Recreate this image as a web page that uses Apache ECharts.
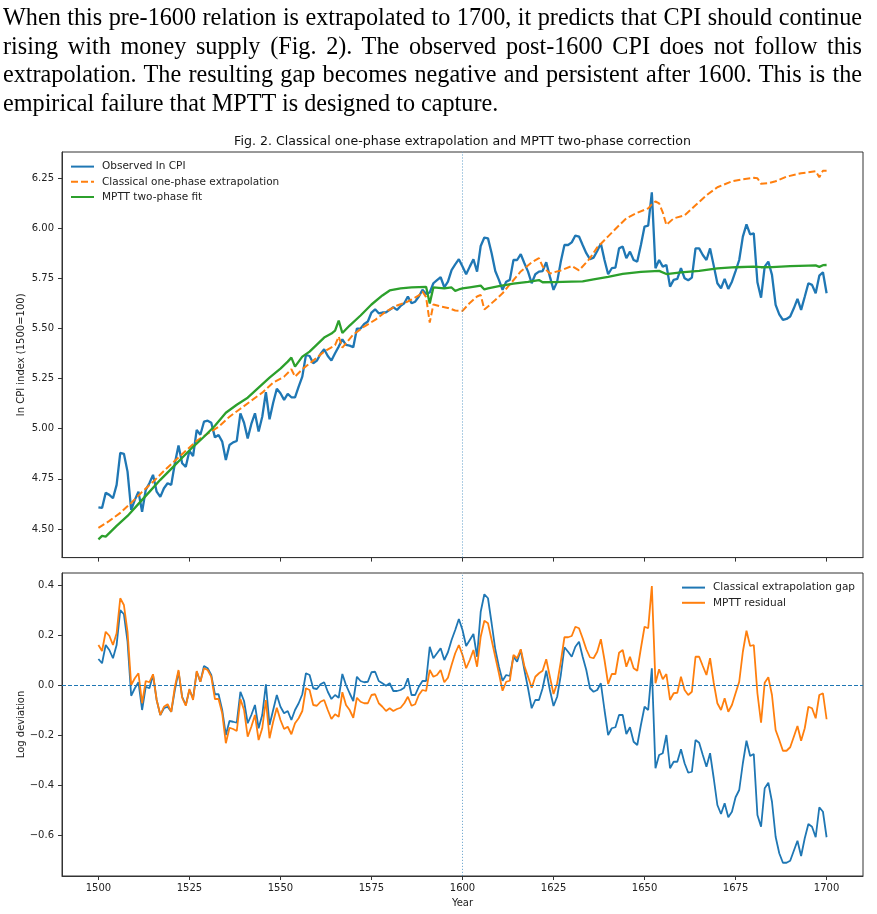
<!DOCTYPE html>
<html>
<head>
<meta charset="utf-8">
<script src="https://cdn.jsdelivr.net/npm/echarts@6/dist/echarts.min.js"></script>
<style>
html, body { margin: 0; padding: 0; background: #fff; }
#wrap { position: relative; width: 877px; height: 914px; overflow: hidden; }
#chart { position: absolute; left: 0; top: 0; width: 877px; height: 914px; }
#para {
  position: absolute; left: 3px; top: 3px; width: 859px;
  font-family: 'Liberation Serif', 'Times New Roman', serif;
  font-size: 24.2px; line-height: 28.7px; text-align: justify; color: #000;
}
</style>
</head>
<body>
<div id="wrap">
  <div id="chart"></div>
  <div id="para">When this pre-1600 relation is extrapolated to 1700, it predicts that CPI should continue rising with money supply (Fig. 2). The observed post-1600 CPI does not follow this extrapolation. The resulting gap becomes negative and persistent after 1600. This is the empirical failure that MPTT is designed to capture.</div>
</div>
<script>
// years 1500..1700, one value per year
const years = Array.from({ length: 201 }, (_, i) => 1500 + i)

const observed = [
  4.608, 4.605, 4.68, 4.67, 4.653, 4.72, 4.88, 4.875, 4.786, 4.595,
  4.645, 4.686, 4.586, 4.695, 4.728, 4.77, 4.686, 4.66, 4.703, 4.728,
  4.72, 4.828, 4.916, 4.828, 4.81, 4.89, 4.864, 4.994, 4.97, 5.035,
  5.04, 5.03, 4.957, 4.969, 4.936, 4.844, 4.919, 4.932, 4.939, 5.077,
  5.03, 4.952, 5.024, 5.077, 4.986, 5.06, 5.182, 5.047, 5.13, 5.2,
  5.177, 5.144, 5.174, 5.157, 5.157, 5.21, 5.26, 5.368, 5.363, 5.327,
  5.34, 5.373, 5.397, 5.363, 5.34, 5.377, 5.41, 5.446, 5.418, 5.415,
  5.407, 5.5, 5.5, 5.523, 5.535, 5.58, 5.596, 5.576, 5.58, 5.581,
  5.593, 5.606, 5.593, 5.613, 5.626, 5.66, 5.626, 5.634, 5.66, 5.693,
  5.673, 5.68, 5.726, 5.742, 5.756, 5.706, 5.734, 5.792, 5.82, 5.846,
  5.81, 5.771, 5.809, 5.846, 5.784, 5.912, 5.954, 5.95, 5.876, 5.787,
  5.743, 5.693, 5.734, 5.743, 5.842, 5.842, 5.871, 5.826, 5.784, 5.726,
  5.771, 5.784, 5.787, 5.831, 5.759, 5.693, 5.734, 5.834, 5.917, 5.917,
  5.93, 5.964, 5.959, 5.917, 5.876, 5.846, 5.854, 5.887, 5.925, 5.842,
  5.771, 5.801, 5.804, 5.9, 5.909, 5.851, 5.884, 5.842, 5.834, 5.917,
  6.009, 6.014, 6.18, 5.801, 5.842, 5.809, 5.817, 5.709, 5.743, 5.748,
  5.801, 5.751, 5.741, 5.754, 5.9, 5.9, 5.867, 5.842, 5.9, 5.814,
  5.726, 5.701, 5.748, 5.698, 5.734, 5.787, 5.842, 5.959, 6.02, 5.97,
  5.975, 5.731, 5.654, 5.809, 5.834, 5.768, 5.618, 5.571, 5.543, 5.548,
  5.56, 5.601, 5.648, 5.593, 5.659, 5.726, 5.718, 5.676, 5.764, 5.781,
  5.676
]

// smooth fits, read at their vertices: [year, value]
const extrapolation = [
  [1500, 4.505], [1503, 4.54], [1506, 4.58], [1509, 4.63], [1512, 4.685],
  [1515, 4.735], [1518, 4.79], [1521, 4.84], [1524, 4.89], [1527, 4.94],
  [1530, 4.975], [1533, 5.01], [1536, 5.06], [1539, 5.10], [1542, 5.14],
  [1545, 5.18], [1548, 5.23], [1551, 5.26], [1553, 5.297], [1554, 5.26],
  [1556, 5.297], [1559, 5.34], [1562, 5.385], [1565, 5.417], [1566, 5.46],
  [1567, 5.405], [1570, 5.47], [1573, 5.51], [1576, 5.543], [1579, 5.585],
  [1582, 5.615], [1585, 5.635], [1588, 5.665], [1589, 5.685], [1590, 5.657],
  [1591, 5.53], [1592, 5.62], [1594, 5.61], [1596, 5.603], [1598, 5.59],
  [1600, 5.588], [1602, 5.628], [1604, 5.66], [1605, 5.668], [1606, 5.595],
  [1607, 5.61], [1609, 5.643], [1611, 5.676], [1613, 5.72], [1616, 5.785],
  [1619, 5.83], [1621, 5.851], [1622, 5.81], [1624, 5.775], [1627, 5.79],
  [1630, 5.812], [1632, 5.79], [1635, 5.85], [1637, 5.905], [1640, 5.96],
  [1643, 6.015], [1645, 6.05], [1648, 6.078], [1651, 6.10], [1652, 6.12],
  [1653, 6.134], [1654, 6.125], [1655, 6.08], [1656, 6.017], [1658, 6.05],
  [1661, 6.065], [1664, 6.115], [1667, 6.165], [1670, 6.205], [1674, 6.235],
  [1677, 6.245], [1680, 6.252], [1681, 6.25], [1682, 6.222], [1684, 6.225],
  [1686, 6.235], [1689, 6.258], [1693, 6.275], [1697, 6.285], [1698, 6.255],
  [1699, 6.288], [1700, 6.288]
]

const mpttFit = [
  [1500, 4.448], [1501, 4.465], [1502, 4.462], [1505, 4.515], [1508, 4.565],
  [1511, 4.625], [1514, 4.685], [1517, 4.745], [1520, 4.80], [1523, 4.855],
  [1526, 4.91], [1529, 4.96], [1532, 5.015], [1535, 5.08], [1538, 5.12],
  [1541, 5.155], [1544, 5.205], [1547, 5.255], [1550, 5.30], [1552, 5.335],
  [1553, 5.355], [1554, 5.31], [1556, 5.36], [1558, 5.385], [1560, 5.42],
  [1562, 5.455], [1564, 5.475], [1565, 5.49], [1566, 5.54], [1567, 5.478],
  [1569, 5.515], [1572, 5.565], [1575, 5.62], [1578, 5.665], [1580, 5.69],
  [1583, 5.70], [1586, 5.705], [1590, 5.708], [1591, 5.625], [1592, 5.705],
  [1595, 5.70], [1597, 5.705], [1598, 5.688], [1599, 5.695], [1600, 5.70],
  [1602, 5.706], [1605, 5.714], [1606, 5.695], [1607, 5.70], [1610, 5.712],
  [1614, 5.724], [1618, 5.733], [1621, 5.742], [1622, 5.731], [1625, 5.732],
  [1630, 5.734], [1633, 5.735], [1636, 5.745], [1640, 5.758], [1644, 5.773],
  [1649, 5.783], [1654, 5.788], [1656, 5.772], [1660, 5.78], [1665, 5.788],
  [1670, 5.80], [1675, 5.806], [1680, 5.809], [1682, 5.806], [1685, 5.807],
  [1690, 5.811], [1695, 5.814], [1697, 5.815], [1698, 5.808], [1699, 5.816],
  [1700, 5.817]
]

const classicalGap = [
  0.104, 0.087, 0.16, 0.14, 0.107, 0.16, 0.30, 0.283, 0.173, -0.043,
  -0.013, 0.011, -0.10, -0.007, -0.013, 0.04, -0.06, -0.12, -0.093, -0.087,
  -0.107, -0.02, 0.053, -0.047, -0.08, -0.02, -0.053, 0.053, 0.013, 0.076,
  0.067, 0.04, -0.037, -0.037, -0.10, -0.20, -0.144, -0.147, -0.151, -0.027,
  -0.064, -0.153, -0.12, -0.08, -0.173, -0.12, 0.003, -0.16, -0.10, -0.04,
  -0.087, -0.113, -0.104, -0.14, -0.10, -0.073, -0.037, 0.047, 0.04, -0.013,
  -0.016, 0.003, 0.011, -0.027, -0.056, -0.04, -0.051, 0.044, 0, -0.033,
  -0.064, 0.033, 0.016, 0.011, 0.013, 0.051, 0.053, 0.016, 0.007, -0.003,
  0.007, -0.024, -0.024, -0.02, -0.011, 0.027, -0.04, -0.04, -0.007, 0.016,
  0.016, 0.153, 0.107, 0.127, 0.147, 0.10, 0.131, 0.18, 0.22, 0.264,
  0.22, 0.156, 0.18, 0.204, 0.113, 0.293, 0.363, 0.347, 0.247, 0.143,
  0.073, 0.017, 0.04, 0.036, 0.113, 0.093, 0.14, 0.06, -0.013, -0.093,
  -0.06, -0.06, -0.013, 0.057, -0.02, -0.084, -0.047, 0.04, 0.151, 0.133,
  0.113, 0.153, 0.173, 0.113, 0.06, -0.013, -0.027, -0.02, 0.007, -0.10,
  -0.20, -0.173, -0.169, -0.12, -0.12, -0.196, -0.169, -0.227, -0.24, -0.16,
  -0.087, -0.10, 0.067, -0.333, -0.28, -0.273, -0.20, -0.333, -0.307, -0.307,
  -0.257, -0.313, -0.351, -0.347, -0.22, -0.231, -0.28, -0.327, -0.273, -0.373,
  -0.48, -0.516, -0.473, -0.529, -0.507, -0.449, -0.42, -0.313, -0.223, -0.284,
  -0.276, -0.52, -0.567, -0.413, -0.391, -0.467, -0.607, -0.673, -0.711, -0.711,
  -0.703, -0.663, -0.623, -0.684, -0.613, -0.556, -0.567, -0.609, -0.489, -0.507,
  -0.609
]

const mpttResidual = [
  0.16, 0.136, 0.213, 0.197, 0.16, 0.207, 0.347, 0.32, 0.213, 0,
  0.027, 0.047, -0.073, 0.016, 0.011, 0.043, -0.06, -0.12, -0.087, -0.077,
  -0.107, -0.007, 0.06, -0.051, -0.083, -0.016, -0.06, 0.056, 0.013, 0.067,
  0.06, 0.033, -0.056, -0.056, -0.113, -0.233, -0.171, -0.176, -0.184, -0.056,
  -0.10, -0.207, -0.167, -0.12, -0.22, -0.173, -0.06, -0.213, -0.147, -0.091,
  -0.14, -0.176, -0.167, -0.197, -0.153, -0.133, -0.104, -0.013, -0.02, -0.08,
  -0.083, -0.067, -0.06, -0.10, -0.136, -0.117, -0.127, -0.029, -0.08, -0.10,
  -0.131, -0.051, -0.067, -0.073, -0.073, -0.04, -0.037, -0.073, -0.087, -0.104,
  -0.093, -0.104, -0.096, -0.091, -0.073, -0.047, -0.083, -0.077, -0.04, -0.02,
  -0.024, 0.06, 0.033, 0.04, 0.06, 0.011, 0.029, 0.08, 0.127, 0.16,
  0.12, 0.067, 0.10, 0.14, 0.073, 0.193, 0.257, 0.247, 0.18, 0.113,
  0.047, -0.023, 0.013, 0.017, 0.12, 0.107, 0.143, 0.076, 0.033, -0.011,
  0.033, 0.047, 0.057, 0.103, 0.033, -0.036, 0.007, 0.093, 0.191, 0.191,
  0.196, 0.233, 0.227, 0.187, 0.143, 0.111, 0.107, 0.133, 0.183, 0.10,
  0.004, 0.044, 0.044, 0.129, 0.14, 0.073, 0.113, 0.067, 0.057, 0.147,
  0.233, 0.227, 0.396, 0.007, 0.063, 0.023, 0.044, -0.06, -0.033, -0.031,
  0.033, -0.02, -0.04, -0.027, 0.113, 0.113, 0.076, 0.04, 0.107, 0.009,
  -0.073, -0.10, -0.053, -0.107, -0.08, -0.033, 0.013, 0.133, 0.217, 0.156,
  0.16, -0.033, -0.151, 0.009, 0.031, -0.04, -0.18, -0.22, -0.263, -0.263,
  -0.249, -0.207, -0.164, -0.223, -0.173, -0.087, -0.093, -0.133, -0.04, -0.033,
  -0.137
]

const xTicks = [1500, 1525, 1550, 1575, 1600, 1625, 1650, 1675, 1700]
const cpiTicks = [4.5, 4.75, 5, 5.25, 5.5, 5.75, 6, 6.25]
const devTicks = [-0.6, -0.4, -0.2, 0, 0.2, 0.4]

const FONT = 'DejaVu Sans'
const INK = '#222'
const FRAME = '#333'

const pair = vals => years.map((y, i) => [y, vals[i]])
const minus = v => (v < 0 ? '\u2212' : '') + Math.abs(v).toFixed(1)

const dotted = { type: [1.2, 1.8], color: 'rgba(31,119,180,0.6)', width: 1 }

const xBase = (grid, labels) => ({
  type: 'value', gridIndex: grid, min: 1490, max: 1710,
  axisLine: { show: true, onZero: false, lineStyle: { color: FRAME, width: 1 } },
  axisTick: { show: true, length: 4, customValues: xTicks, lineStyle: { color: FRAME } },
  axisLabel: {
    show: labels, customValues: xTicks, fontSize: 10, fontFamily: FONT, color: INK, margin: 7,
    formatter: v => String(v)
  },
  splitLine: { show: false }
})

const legendBase = {
  orient: 'vertical', padding: 0, itemWidth: 23, itemHeight: 14, itemGap: 4,
  itemStyle: { opacity: 0 },
  textStyle: { fontSize: 10.5, fontFamily: FONT, color: INK, padding: [0, 0, 0, 3] }
}

const chart = echarts.init(document.getElementById('chart'))
chart.setOption({
  animation: false,
  backgroundColor: 'transparent',
  textStyle: { fontFamily: FONT },
  graphic: [{
    type: 'text', x: 462.5, y: 142,
    style: {
      text: 'Fig. 2. Classical one-phase extrapolation and MPTT two-phase correction',
      font: '12.6px "DejaVu Sans"', fill: '#111', textAlign: 'center', textVerticalAlign: 'middle'
    }
  }],
  grid: [
    { left: 62, top: 152, width: 801, height: 405.6, show: true, borderColor: FRAME, borderWidth: 1, outerBoundsMode: 'none' },
    { left: 62, top: 573, width: 801, height: 303, show: true, borderColor: FRAME, borderWidth: 1, outerBoundsMode: 'none' }
  ],
  legend: [
    Object.assign({}, legendBase, {
      data: ['Observed ln CPI', 'Classical one-phase extrapolation', 'MPTT two-phase fit'],
      left: 70, top: 161
    }),
    Object.assign({}, legendBase, {
      data: ['Classical extrapolation gap', 'MPTT residual'],
      left: 681, top: 582
    })
  ],
  xAxis: [
    xBase(0, false),
    Object.assign(xBase(1, true), {
      name: 'Year', nameLocation: 'middle', nameGap: 22,
      nameTextStyle: { fontSize: 10, fontFamily: FONT, color: INK }
    })
  ],
  yAxis: [
    {
      type: 'value', gridIndex: 0, min: 4.357, max: 6.381,
      name: 'ln CPI index (1500=100)', nameLocation: 'middle', nameGap: 36, nameRotate: 90,
      nameMoveOverlap: false,
      nameTextStyle: { fontSize: 10, fontFamily: FONT, color: INK },
      axisLine: { show: true, lineStyle: { color: FRAME, width: 1 } },
      axisTick: { show: true, length: 4, customValues: cpiTicks, lineStyle: { color: FRAME } },
      axisLabel: { customValues: cpiTicks, fontSize: 10, fontFamily: FONT, color: INK, margin: 8, formatter: v => v.toFixed(2) },
      splitLine: { show: false }
    },
    {
      type: 'value', gridIndex: 1, min: -0.764, max: 0.448,
      name: 'Log deviation', nameLocation: 'middle', nameGap: 36, nameRotate: 90,
      nameMoveOverlap: false,
      nameTextStyle: { fontSize: 10, fontFamily: FONT, color: INK },
      axisLine: { show: true, lineStyle: { color: FRAME, width: 1 } },
      axisTick: { show: true, length: 4, customValues: devTicks, lineStyle: { color: FRAME } },
      axisLabel: { customValues: devTicks, fontSize: 10, fontFamily: FONT, color: INK, margin: 8, formatter: minus },
      splitLine: { show: false }
    }
  ],
  series: [
    {
      name: 'Observed ln CPI', type: 'line', xAxisIndex: 0, yAxisIndex: 0,
      data: pair(observed), symbol: 'none', color: '#1f77b4',
      lineStyle: { width: 2.3, color: '#1f77b4' }, z: 3,
      markLine: {
        silent: true, symbol: ['none', 'none'], label: { show: false },
        lineStyle: dotted, data: [{ xAxis: 1600 }]
      }
    },
    {
      name: 'Classical one-phase extrapolation', type: 'line', xAxisIndex: 0, yAxisIndex: 0,
      data: extrapolation, symbol: 'none', color: '#ff7f0e',
      lineStyle: { width: 2, color: '#ff7f0e', type: [7, 3] }, z: 4
    },
    {
      name: 'MPTT two-phase fit', type: 'line', xAxisIndex: 0, yAxisIndex: 0,
      data: mpttFit, symbol: 'none', color: '#2ca02c',
      lineStyle: { width: 2.3, color: '#2ca02c' }, z: 5
    },
    {
      name: 'Classical extrapolation gap', type: 'line', xAxisIndex: 1, yAxisIndex: 1,
      data: pair(classicalGap), symbol: 'none', color: '#1f77b4',
      lineStyle: { width: 1.8, color: '#1f77b4' }, z: 3,
      markLine: {
        silent: true, symbol: ['none', 'none'], label: { show: false },
        data: [
          { yAxis: 0, lineStyle: { type: [4, 2], color: '#1f77b4', width: 1 } },
          { xAxis: 1600, lineStyle: dotted }
        ]
      }
    },
    {
      name: 'MPTT residual', type: 'line', xAxisIndex: 1, yAxisIndex: 1,
      data: pair(mpttResidual), symbol: 'none', color: '#ff7f0e',
      lineStyle: { width: 1.8, color: '#ff7f0e' }, z: 4
    }
  ]
})
</script>
</body>
</html>
